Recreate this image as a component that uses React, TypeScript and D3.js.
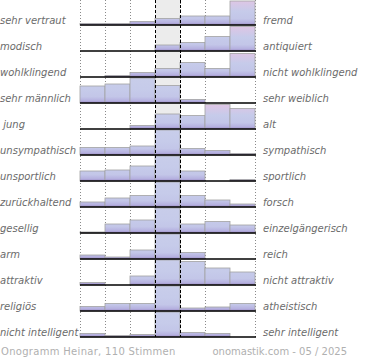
import React from "react";
import * as d3 from "d3";

const leftLabels = [
  "sehr vertraut", "modisch", "wohlklingend", "sehr männlich", " jung",
  "unsympathisch", "unsportlich", "zurückhaltend", "gesellig", "arm",
  "attraktiv", "religiös", "nicht intelligent",
];
const rightLabels = [
  "fremd", "antiquiert", "nicht wohlklingend", "sehr weiblich", "alt",
  "sympathisch", "sportlich", "forsch", "einzelgängerisch", "reich",
  "nicht attraktiv", "atheistisch", "sehr intelligent",
];
// share of votes per scale step (7 steps), center step often exceeds the row
const row0 = [3, 3, 7, 13, 18, 18, 48];
const row1 = [0, 0, 0, 12, 17, 29, 49];
const row2 = [0, 3, 9, 17, 29, 17, 47];
const row3 = [34, 38, 60, 35, 7, 0, 0];
const row4 = [0, 0, 7, 30, 27, 49, 41];
const row5 = [15, 15, 18, 70, 13, 9, 3];
const row6 = [20, 22, 30, 70, 20, 0, 3];
const row7 = [10, 18, 23, 70, 23, 14, 6];
const row8 = [2, 18, 26, 70, 18, 23, 16];
const row9 = [8, 4, 18, 70, 13, 0, 0];
const row10 = [5, 0, 18, 70, 47, 34, 26];
const row11 = [9, 15, 15, 70, 6, 8, 15];
const row12 = [7, 3, 5, 70, 9, 7, 0];
const rows = [row0, row1, row2, row3, row4, row5, row6, row7, row8, row9, row10, row11, row12];
const pinkRows = [0, 1, 2, 4];
const footerLeft = "Onogramm Heinar, 110 Stimmen";
const footerRight = "onomastik.com - 05 / 2025";

const steps = d3.range(7);

export default function App() {
  const x = d3.scaleBand<number>().domain(steps).range([80, 255]).padding(0);
  const rowY = d3.scaleLinear().domain([0, rows.length - 1]).range([25, 337]);
  const h = d3.scaleLinear().domain([0, 50]).range([0, 25]).clamp(true);
  const bw = x.bandwidth();
  const centerL = x(3)!;
  const centerR = centerL + bw;
  const top = 0;
  const bottom = rowY(rows.length - 1);
  const font = "'DejaVu Sans', Verdana, sans-serif";

  return (
    <svg
      width={370}
      height={360}
      style={{ position: "absolute", left: 0, top: 0, background: "#fff" }}
    >
      <defs>
        {rows.map((_, i) => {
          const base = rowY(i);
          const pink = pinkRows.includes(i);
          return (
            <linearGradient
              key={i}
              id={`g${i}`}
              gradientUnits="userSpaceOnUse"
              x1={0}
              x2={0}
              y1={base}
              y2={base - 25}
            >
              <stop offset="0" stopColor="#9d8cc6" />
              <stop offset="0.1" stopColor="#b6b2e0" />
              <stop offset="0.25" stopColor="#c3c6e8" />
              <stop offset="0.55" stopColor="#c6cbea" />
              <stop offset="1" stopColor={pink ? "#e0c5e4" : "#c8cdea"} />
            </linearGradient>
          );
        })}
      </defs>
      <rect x={centerL} y={top} width={bw} height={bottom - top} fill="#ececec" />
      {[x(0)!, x(1)!, x(2)!, x(4)!, x(5)!, x(6)! + bw].map((gx, i) => (
        <line
          key={i}
          x1={gx + 0.5}
          x2={gx + 0.5}
          y1={top}
          y2={bottom}
          stroke="#8a8a8a"
          strokeWidth={1}
          strokeDasharray="1,2"
        />
      ))}
      {rows.map((vals, i) => {
        const base = rowY(i);
        return (
          <g key={i}>
            {vals.map((v, j) =>
              v > 0 ? (
                <rect
                  key={j}
                  x={x(j)!}
                  y={base - h(v)}
                  width={bw}
                  height={h(v)}
                  fill={`url(#g${i})`}
                  stroke="#a2a2a2"
                  strokeWidth={0.8}
                />
              ) : null
            )}
          </g>
        );
      })}
      {rows.map((_, i) => (
        <line
          key={i}
          x1={80}
          x2={256}
          y1={rowY(i)}
          y2={rowY(i)}
          stroke="#000"
          strokeWidth={1.6}
        />
      ))}
      {[centerL, centerR].map((cx, i) => (
        <line
          key={i}
          x1={cx + 0.5}
          x2={cx + 0.5}
          y1={top}
          y2={bottom}
          stroke="#000"
          strokeWidth={1}
          strokeDasharray="3,2"
        />
      ))}
      {leftLabels.map((t, i) => (
        <text
          key={i}
          x={0}
          y={rowY(i) - 1.5}
          fontFamily={font}
          fontSize={10}
          fontStyle="italic"
          fill="#6b6b6b"
          style={{ whiteSpace: "pre" }}
        >
          {t}
        </text>
      ))}
      {rightLabels.map((t, i) => (
        <text
          key={i}
          x={263}
          y={rowY(i) - 1.5}
          fontFamily={font}
          fontSize={10}
          fontStyle="italic"
          fill="#6b6b6b"
        >
          {t}
        </text>
      ))}
      <text x={1} y={355} fontFamily={font} fontSize={10} letterSpacing={0.3} fill="#b0b0b0">
        {footerLeft}
      </text>
      <text x={347} y={355} textAnchor="end" fontFamily={font} fontSize={10} fill="#b0b0b0">
        {footerRight}
      </text>
    </svg>
  );
}
